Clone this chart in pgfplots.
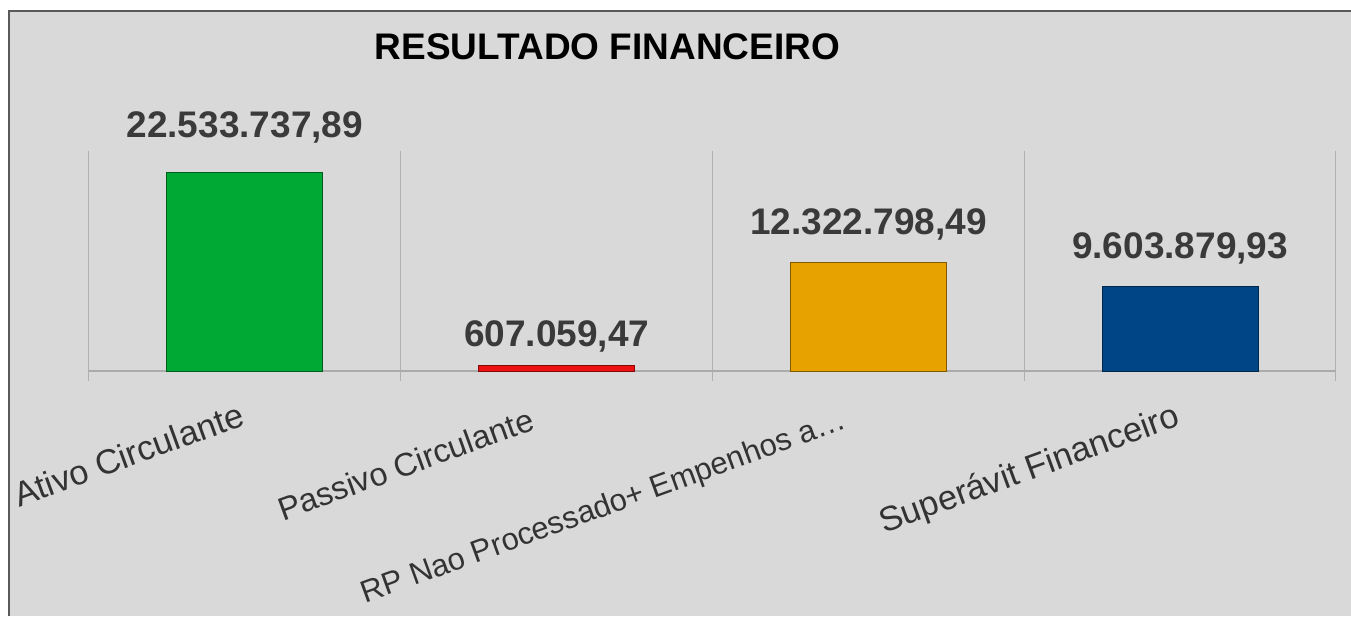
\documentclass[border=0pt]{standalone}
\usepackage{pgfplots}
\pgfplotsset{compat=1.18}
\usepackage{fontspec}
\setmainfont{Liberation Sans}
\definecolor{bg}{HTML}{D9D9D9}
\definecolor{bordercol}{HTML}{5A5A5A}
\definecolor{gridcol}{HTML}{B0B0B0}
\definecolor{basecol}{HTML}{ABABAB}
\definecolor{vallab}{HTML}{3A3A3A}
\definecolor{labcol}{HTML}{333333}
\definecolor{cgreen}{HTML}{00A933}
\definecolor{cred}{HTML}{EE1111}
\definecolor{corange}{HTML}{E8A200}
\definecolor{cblue}{HTML}{004586}
\begin{document}
\begin{tikzpicture}[x=1pt,y=1pt]
\useasboundingbox (0,0) rectangle (1351,616);
\fill[bg] (9,0) rectangle (1351,605);
\draw[bordercol, line width=1.5pt] (9,0) -- (9,605) -- (1351,605);
\begin{axis}[
  at={(89pt,245pt)}, anchor=south west,
  scale only axis, width=1247pt, height=220pt,
  xmin=-0.5, xmax=3.5, ymin=0, ymax=25000000,
  axis y line=none, axis x line=bottom,
  axis line style={-, draw=basecol, line width=2pt},
  xtick={0,3},
  xticklabels={Ativo Circulante, Superávit Financeiro},
  extra x ticks={1,2},
  extra x tick labels={{\fontsize{32.5}{36}\selectfont Passivo Circulante}, {\fontsize{31}{34}\selectfont RP Nao Processado+ Empenhos a…}},
  extra x tick style={major tick length=0pt,
    xticklabel style={xshift=-22pt, yshift=2pt}},
  major tick length=0pt,
  minor xtick={-0.5,0.5,1.5,2.5,3.5},
  minor tick length=10pt, tick align=outside,
  minor tick style={draw=gridcol, line width=1pt},
  xminorgrids, minor grid style={draw=gridcol, line width=1pt},
  xticklabel style={xshift=-7pt, yshift=-30pt, rotate=20, anchor=north east, inner sep=0pt,
    font=\fontsize{34.5}{38}\selectfont, text=labcol},
  ytick=\empty,
  clip=false,
]
\addplot[ybar, bar width=156pt, bar shift=0pt, fill=cgreen, draw=cgreen!55!black, line width=0.8pt,
  nodes near coords={22.533.737,89},
  every node near coord/.style={anchor=base, yshift=35pt, font=\bfseries\fontsize{37}{40}\selectfont, text=vallab}]
  coordinates {(0,22533737.89)};
\addplot[ybar, bar width=156pt, bar shift=0pt, fill=cred, draw=cred!55!black, line width=0.8pt,
  nodes near coords={607.059,47},
  every node near coord/.style={anchor=base, yshift=19pt, font=\bfseries\fontsize{37}{40}\selectfont, text=vallab}]
  coordinates {(1,607059.47)};
\addplot[ybar, bar width=156pt, bar shift=0pt, fill=corange, draw=corange!55!black, line width=0.8pt,
  nodes near coords={12.322.798,49},
  every node near coord/.style={anchor=base, yshift=28pt, font=\bfseries\fontsize{37}{40}\selectfont, text=vallab}]
  coordinates {(2,12322798.49)};
\addplot[ybar, bar width=156pt, bar shift=0pt, fill=cblue, draw=cblue!55!black, line width=0.8pt,
  nodes near coords={9.603.879,93},
  every node near coord/.style={anchor=base, yshift=28pt, font=\bfseries\fontsize{37}{40}\selectfont, text=vallab}]
  coordinates {(3,9603879.93)};
\end{axis}
\node[anchor=base, font=\bfseries\fontsize{37}{40}\selectfont, text=black] at (607.5,556) {RESULTADO FINANCEIRO};
\end{tikzpicture}
\end{document}
